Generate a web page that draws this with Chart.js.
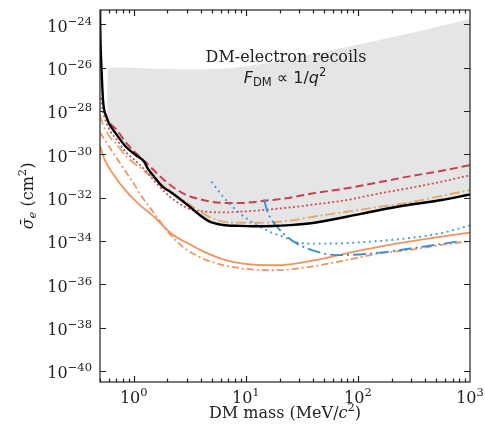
<!DOCTYPE html>
<html>
<head>
<meta charset="utf-8">
<script src="https://cdn.jsdelivr.net/npm/chart.js@4.4.1/dist/chart.umd.min.js"></script>
<style>
  html, body { margin: 0; padding: 0; background: #fff; }
  #wrap { width: 485px; height: 431px; }
</style>
</head>
<body>
<div id="wrap"><canvas id="c" width="485" height="431"></canvas></div>
<script>
// DM mass in MeV/c^2, cross sections as log10(sigma_e / cm^2)

const blackMass = [0.5, 0.503, 0.508, 0.515, 0.532, 0.545, 0.57, 0.6, 0.69, 0.85, 1.04, 1.24, 1.33, 1.52, 1.8, 2.1, 3.16, 3.88, 4.77, 6.23, 8.84, 12.5, 17.5, 24.7, 39.6, 79.3, 157, 279, 559, 1000];
const blackLog = [-23.2, -24.3, -25.2, -26.0, -27.5, -27.95, -28.26, -28.57, -29.03, -29.65, -30.03, -30.34, -30.65, -31.03, -31.49, -31.72, -32.42, -32.8, -33.11, -33.26, -33.3, -33.32, -33.31, -33.27, -33.17, -32.88, -32.57, -32.34, -32.11, -31.85];

const redDashMass = [0.62, 0.7, 0.85, 1.0, 1.3, 1.83, 2.75, 4.16, 6.27, 8.84, 14.3, 24.7, 39.9, 79.3, 157, 279, 559, 1000];
const redDashLog = [-28.6, -28.85, -29.45, -29.85, -30.4, -31.15, -31.8, -32.11, -32.24, -32.25, -32.15, -32.0, -31.8, -31.57, -31.28, -31.03, -30.76, -30.5];

const redDotMass = [0.51, 0.53, 0.57, 0.62, 0.7, 0.85, 1.04, 1.3, 1.6, 2.1, 2.7, 3.3, 4.46, 6.27, 8.84, 14.3, 24.7, 39.9, 79.3, 157, 279, 559, 1000];
const redDotLog = [-27.4, -28.0, -28.55, -28.95, -29.3, -29.9, -30.3, -30.8, -31.35, -31.95, -32.35, -32.56, -32.65, -32.68, -32.65, -32.57, -32.45, -32.32, -32.11, -31.8, -31.57, -31.26, -30.97];

const tanMass = [0.5, 0.526, 0.611, 0.691, 0.861, 1.11, 1.59, 2.24, 3.38, 5.0, 7.7, 12.5, 24.7, 39.9, 79.3, 157, 281, 559, 1000];
const tanLog = [-28.19, -28.57, -29.2, -29.49, -30.11, -30.57, -31.19, -31.8, -32.42, -32.95, -33.15, -33.16, -33.06, -32.88, -32.65, -32.42, -32.23, -31.92, -31.65];

const orangeMass = [0.5, 0.514, 0.551, 0.637, 0.793, 1.11, 1.47, 2.22, 3.16, 4.46, 6.27, 8.84, 12.5, 17.5, 24.7, 39.9, 79.3, 157, 281, 559, 1000];
const orangeLog = [-29.6, -29.8, -30.26, -30.82, -31.5, -32.3, -32.82, -33.7, -34.15, -34.55, -34.85, -35.02, -35.1, -35.12, -35.08, -34.9, -34.57, -34.26, -34.03, -33.8, -33.61];

const orangeDdMass = [0.5, 0.562, 0.691, 0.908, 1.04, 1.11, 1.52, 2.07, 2.72, 3.58, 4.46, 6.27, 8.84, 12.5, 17.5, 24.7, 39.6, 79.3, 157, 281, 559, 1000];
const orangeDdLog = [-29.0, -29.4, -30.11, -31.03, -31.49, -31.75, -32.72, -33.64, -34.26, -34.65, -34.88, -35.11, -35.25, -35.33, -35.35, -35.31, -35.17, -34.88, -34.57, -34.42, -34.18, -34.0];

const blueDotMass = [4.94, 6.27, 8.84, 12.5, 17.5, 21.5, 28.4, 40, 69, 136, 272, 540, 1000];
const blueDotLog = [-31.26, -31.96, -32.72, -33.26, -33.64, -33.8, -34.06, -34.12, -34.11, -34.02, -33.88, -33.65, -33.28];

const blueDashMass = [14.5, 15.8, 18.8, 21.5, 28.4, 42.8, 64.5, 137, 383, 760];
const blueDashLog = [-32.08, -32.72, -33.31, -33.64, -34.11, -34.49, -34.65, -34.57, -34.26, -34.03];

// upper edge of the grey excluded region (lower edge is the black curve)
const greyTopMass = [0.58, 0.585, 0.6, 0.65, 1.0, 1.39, 3.88, 8.84, 15, 30.3, 69, 157, 358, 1000];
const greyTopLog = [-26.9, -26.3, -26.08, -25.99, -26.0, -26.04, -26.08, -25.98, -25.8, -25.5, -25.12, -24.72, -24.31, -23.76];

const xTickValues = [1, 10, 100, 1000];
const xTickExp = ['0', '1', '2', '3'];
const yTickExp = [-24, -26, -28, -30, -32, -34, -36, -38, -40];

const SERIF = '"DejaVu Serif", serif';
const SANS = '"DejaVu Sans", sans-serif';

function toPoints(mass, logs) {
  return mass.map((m, i) => ({ x: m, y: Math.pow(10, logs[i]) }));
}

function line(data, color, width, dash) {
  return {
    data: data,
    borderColor: color,
    borderWidth: width,
    borderDash: dash || [],
    pointRadius: 0,
    fill: false,
    cubicInterpolationMode: 'monotone'
  };
}

// draws a run of text pieces (for superscripts / subscripts)
function richText(ctx, parts, x, y, align) {
  let w = 0;
  parts.forEach(p => { ctx.font = p.font; p.w = ctx.measureText(p.text).width; w += p.w; });
  let cx = align === 'center' ? x - w / 2 : (align === 'right' ? x - w : x);
  parts.forEach(p => {
    ctx.font = p.font;
    ctx.fillText(p.text, cx, y + (p.dy || 0));
    cx += p.w;
  });
}

const axesPlugin = {
  id: 'axesPlugin',
  afterDatasetsDraw(chart) {
    const { ctx, chartArea: a, scales } = chart;
    const xs = scales.x, ys = scales.y;
    ctx.save();
    ctx.strokeStyle = '#222';
    ctx.fillStyle = '#222';
    ctx.lineWidth = 1.2;
    ctx.textAlign = 'left';
    ctx.textBaseline = 'alphabetic';

    // ticks, all pointing inwards
    ctx.beginPath();
    for (let e = -1; e <= 2; e++) {
      for (let s = 1; s <= 9; s++) {
        const v = s * Math.pow(10, e);
        if (v < 0.5 || v > 1000) continue;
        const px = Math.round(xs.getPixelForValue(v)) + 0.5;
        const len = s === 1 ? 6 : 3.5;
        ctx.moveTo(px, a.bottom); ctx.lineTo(px, a.bottom - len);
        ctx.moveTo(px, a.top); ctx.lineTo(px, a.top + len);
      }
    }
    yTickExp.forEach(e => {
      const py = Math.round(ys.getPixelForValue(Math.pow(10, e))) + 0.5;
      ctx.moveTo(a.left, py); ctx.lineTo(a.left + 6, py);
      ctx.moveTo(a.right, py); ctx.lineTo(a.right - 6, py);
    });
    ctx.stroke();

    ctx.strokeRect(a.left, a.top, a.right - a.left, a.bottom - a.top);

    // tick labels
    xTickValues.forEach((v, i) => {
      const px = xs.getPixelForValue(v);
      richText(ctx, [
        { text: '10', font: '16px ' + SERIF },
        { text: xTickExp[i], font: '11.5px ' + SERIF, dy: -7 }
      ], px, 403, 'center');
    });
    yTickExp.forEach(e => {
      const py = ys.getPixelForValue(Math.pow(10, e));
      richText(ctx, [
        { text: '10', font: '16px ' + SERIF },
        { text: '\u2212' + Math.abs(e), font: '11.5px ' + SERIF, dy: -7 }
      ], 92, py + 7.4, 'right');
    });

    // axis titles
    richText(ctx, [
      { text: 'DM mass (MeV/', font: '16px ' + SERIF },
      { text: 'c', font: 'italic 16px ' + SERIF },
      { text: '2', font: '11.5px ' + SERIF, dy: -7 },
      { text: ')', font: '16px ' + SERIF }
    ], 285, 418, 'center');

    ctx.save();
    ctx.translate(33, 196);
    ctx.rotate(-Math.PI / 2);
    richText(ctx, [
      { text: '\u03C3\u0304', font: 'italic 16px ' + SERIF },
      { text: 'e', font: 'italic 11.5px ' + SERIF, dy: 3 },
      { text: ' (cm', font: '16px ' + SERIF },
      { text: '2', font: '11.5px ' + SERIF, dy: -7 },
      { text: ')', font: '16px ' + SERIF }
    ], 0, 0, 'center');
    ctx.restore();

    // annotation
    richText(ctx, [{ text: 'DM-electron recoils', font: '16px ' + SERIF }], 286, 62, 'center');
    richText(ctx, [
      { text: 'F', font: 'italic 16px ' + SANS },
      { text: 'DM', font: '11.5px ' + SANS, dy: 3 },
      { text: ' \u221D 1/', font: '16px ' + SANS },
      { text: 'q', font: 'italic 16px ' + SANS },
      { text: '2', font: '11.5px ' + SANS, dy: -7 }
    ], 285, 83, 'center');

    ctx.restore();
  }
};

const greyData = toPoints(greyTopMass, greyTopLog);

new Chart(document.getElementById('c'), {
  type: 'line',
  data: {
    datasets: [
      line(toPoints(blackMass, blackLog), '#000000', 2.4),
      line(toPoints(blueDashMass, blueDashLog), '#3d8fd3', 1.9, [13, 4, 2, 4]),
      line(toPoints(blueDotMass, blueDotLog), '#4a9bd8', 1.9, [2, 3.6]),
      line(toPoints(redDashMass, redDashLog), '#c8414f', 2, [8, 4]),
      line(toPoints(redDotMass, redDotLog), '#d24b5a', 1.8, [2, 2.4]),
      line(toPoints(tanMass, tanLog), '#e0aa72', 1.9, [10, 3, 2, 3]),
      line(toPoints(orangeMass, orangeLog), '#f0945f', 1.8),
      line(toPoints(orangeDdMass, orangeDdLog), '#f0945f', 1.8, [7, 3, 2, 3]),
      {
        data: greyData,
        borderWidth: 0,
        borderColor: 'rgba(0,0,0,0)',
        backgroundColor: '#e5e5e5',
        pointRadius: 0,
        fill: 0,
        cubicInterpolationMode: 'monotone'
      }
    ]
  },
  options: {
    responsive: false,
    animation: false,
    devicePixelRatio: 1,
    events: [],
    layout: { padding: { left: 100, right: 15, top: 10, bottom: 49 } },
    plugins: { legend: { display: false }, tooltip: { enabled: false } },
    scales: {
      x: { type: 'logarithmic', min: 0.5, max: 1000, display: false },
      y: { type: 'logarithmic', min: Math.pow(10, -40.507), max: Math.pow(10, -23.34), display: false }
    }
  },
  plugins: [axesPlugin]
});
</script>
</body>
</html>
